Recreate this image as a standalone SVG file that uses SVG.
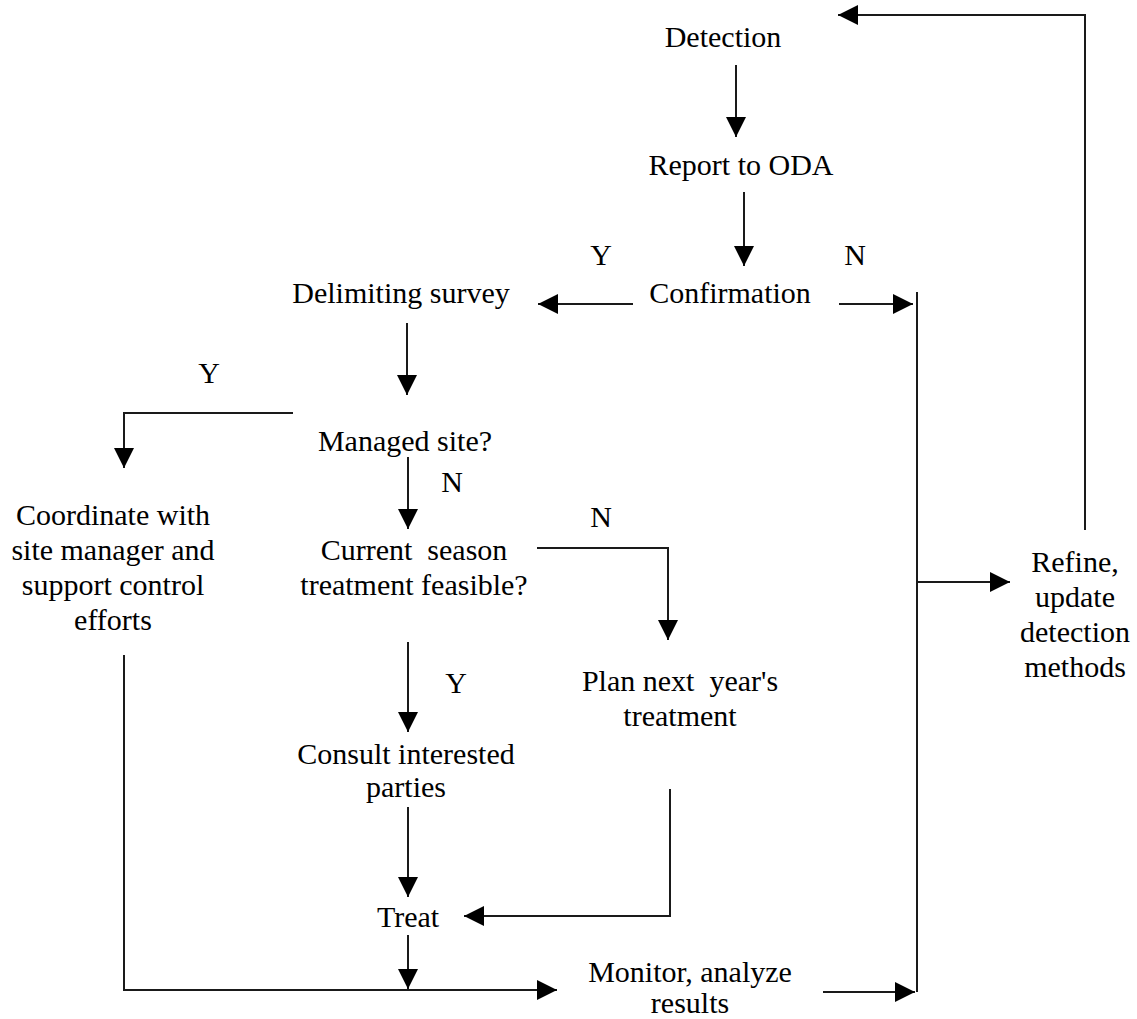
<svg xmlns="http://www.w3.org/2000/svg" width="1137" height="1019" viewBox="0 0 1137 1019">
<style>
text { font-family: "Liberation Serif", "Times New Roman", serif; font-size: 30px; fill: #000; text-anchor: middle; white-space: pre; }
.c { fill: none; stroke: #1a1a1a; stroke-width: 2; }
</style>
<defs>
<marker id="ah" markerUnits="userSpaceOnUse" markerWidth="20" markerHeight="20" refX="20" refY="10" orient="auto">
<path d="M0,0 L20,10 L0,20 z" fill="#000"/>
</marker>
</defs>
<rect width="1137" height="1019" fill="#fff"/>
<g id="connectors">
<path class="c" d="M736,65 V137" marker-end="url(#ah)"/>
<path class="c" d="M744,192 V266" marker-end="url(#ah)"/>
<path class="c" d="M633,304 H538" marker-end="url(#ah)"/>
<path class="c" d="M839,304 H913" marker-end="url(#ah)"/>
<path class="c" d="M917,292 V992"/>
<path class="c" d="M917,582 H1010" marker-end="url(#ah)"/>
<path class="c" d="M1085,530 V15 H838" marker-end="url(#ah)"/>
<path class="c" d="M407,323 V395" marker-end="url(#ah)"/>
<path class="c" d="M293,413 H124 V468" marker-end="url(#ah)"/>
<path class="c" d="M408,457 V529" marker-end="url(#ah)"/>
<path class="c" d="M537,548 H668 V640" marker-end="url(#ah)"/>
<path class="c" d="M408,642 V732" marker-end="url(#ah)"/>
<path class="c" d="M408,807 V897" marker-end="url(#ah)"/>
<path class="c" d="M670,789 V916 H464" marker-end="url(#ah)"/>
<path class="c" d="M408,935 V989" marker-end="url(#ah)"/>
<path class="c" d="M124,655 V990 H557" marker-end="url(#ah)"/>
<path class="c" d="M823,992 H915" marker-end="url(#ah)"/>
</g>
<g id="labels">
<text x="601" y="265">Y</text>
<text x="855" y="265">N</text>
<text x="209" y="383">Y</text>
<text x="452" y="492">N</text>
<text x="601" y="527">N</text>
<text x="456" y="693">Y</text>
</g>
<g id="detection"><text x="723" y="47">Detection</text></g>
<g id="report"><text x="741" y="175">Report to ODA</text></g>
<g id="confirmation"><text x="730" y="303">Confirmation</text></g>
<g id="delimiting"><text x="401" y="303">Delimiting survey</text></g>
<g id="managed"><text x="405" y="451">Managed site?</text></g>
<g id="coordinate">
<text x="113" y="525">Coordinate with</text>
<text x="113" y="560">site manager and</text>
<text x="113" y="595">support control</text>
<text x="113" y="630">efforts</text>
</g>
<g id="current">
<text x="414" y="560">Current  season</text>
<text x="414" y="595">treatment feasible?</text>
</g>
<g id="plan">
<text x="680" y="691">Plan next  year's</text>
<text x="680" y="726">treatment</text>
</g>
<g id="consult">
<text x="406" y="764">Consult interested</text>
<text x="406" y="797">parties</text>
</g>
<g id="treat"><text x="408" y="927">Treat</text></g>
<g id="monitor">
<text x="690" y="982">Monitor, analyze</text>
<text x="690" y="1013">results</text>
</g>
<g id="refine">
<text x="1075" y="572">Refine,</text>
<text x="1075" y="607">update</text>
<text x="1075" y="642">detection</text>
<text x="1075" y="677">methods</text>
</g>
</svg>
